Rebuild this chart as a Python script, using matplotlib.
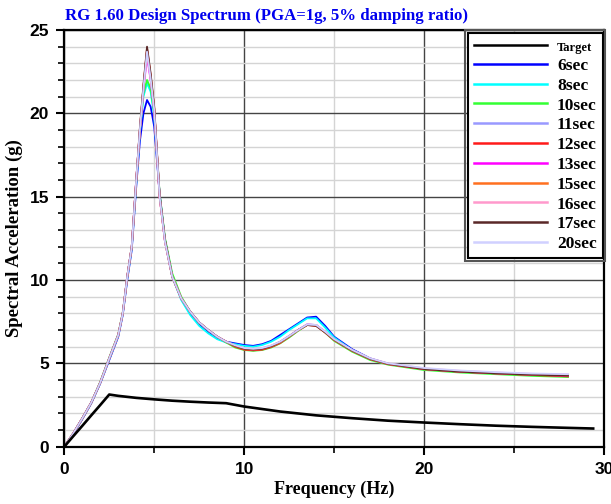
import matplotlib
matplotlib.use("Agg")
import matplotlib.pyplot as plt
from matplotlib.ticker import MultipleLocator
from matplotlib.patches import Rectangle

# ---------------- data ----------------
target_freq = [0, 0.5, 1, 1.5, 2, 2.5, 3, 4, 5, 6, 7, 8, 9, 10, 12, 14, 16, 18, 20, 22, 24, 26, 28, 29.4]
target_sa = [0, 0.63, 1.25, 1.88, 2.50, 3.13, 3.05, 2.93, 2.84, 2.76, 2.70, 2.65, 2.61, 2.41, 2.11,
             1.88, 1.71, 1.56, 1.45, 1.35, 1.26, 1.19, 1.13, 1.09]

freq = [0, 0.5, 1, 1.5, 2, 2.5, 3, 3.25, 3.5, 3.75, 4, 4.2, 4.4, 4.6, 4.8, 5, 5.3, 5.6, 6, 6.5,
        7, 7.5, 8, 8.5, 9, 9.5, 10, 10.5, 11, 11.5, 12, 12.5, 13, 13.5, 14, 14.5, 15, 16, 17, 18,
        20, 22, 24, 26, 28]

sa_6sec = [0, 0.75, 1.65, 2.6, 3.8, 5.2, 6.6, 7.9, 10.0, 11.8, 15.6, 18.3, 20.0, 20.8, 20.4, 19.2,
           15.2, 12.4, 10.3, 8.9, 8.0, 7.35, 6.9, 6.5, 6.3, 6.2, 6.1, 6.05, 6.15, 6.35, 6.7, 7.05,
           7.4, 7.75, 7.8, 7.25, 6.6, 5.85, 5.3, 4.98, 4.65, 4.5, 4.4, 4.32, 4.28]
sa_8sec = [0, 0.78, 1.68, 2.62, 3.82, 5.25, 6.65, 7.95, 10.1, 11.9, 15.8, 18.8, 21.0, 21.8, 21.3,
           19.8, 15.1, 12.3, 10.2, 8.8, 7.9, 7.25, 6.8, 6.45, 6.25, 6.15, 6.05, 6.0, 6.1, 6.3, 6.6,
           7.0, 7.35, 7.7, 7.7, 7.15, 6.55, 5.8, 5.28, 4.96, 4.65, 4.5, 4.4, 4.32, 4.28]
sa_10sec = [0, 0.8, 1.7, 2.65, 3.9, 5.35, 6.75, 8.05, 10.2, 12.0, 15.9, 18.9, 21.2, 22.0, 21.5,
            20.0, 15.2, 12.5, 10.4, 9.0, 8.1, 7.45, 7.0, 6.6, 6.25, 5.95, 5.8, 5.75, 5.8, 5.95, 6.2,
            6.55, 6.95, 7.3, 7.3, 6.85, 6.35, 5.7, 5.2, 4.92, 4.6, 4.45, 4.35, 4.25, 4.18]
sa_11sec = [0, 0.8, 1.7, 2.65, 3.85, 5.3, 6.7, 8.0, 10.2, 12.0, 16.0, 19.0, 21.5, 23.6, 22.1,
            20.2, 15.0, 12.3, 10.2, 8.9, 8.1, 7.45, 7.0, 6.6, 6.3, 6.05, 5.9, 5.85, 5.9, 6.05, 6.3,
            6.65, 7.0, 7.35, 7.3, 6.9, 6.45, 5.78, 5.27, 4.97, 4.67, 4.52, 4.42, 4.34, 4.3]
sa_12sec = [0, 0.8, 1.7, 2.65, 3.85, 5.3, 6.7, 8.0, 10.2, 12.0, 16.0, 19.0, 21.6, 23.9, 22.3,
            20.3, 15.0, 12.3, 10.2, 8.9, 8.1, 7.45, 7.0, 6.6, 6.3, 6.0, 5.82, 5.78, 5.82, 5.98, 6.22,
            6.6, 7.0, 7.3, 7.25, 6.85, 6.4, 5.75, 5.25, 4.95, 4.65, 4.5, 4.4, 4.3, 4.22]
sa_13sec = [0, 0.8, 1.7, 2.65, 3.85, 5.3, 6.7, 8.0, 10.2, 12.0, 16.0, 18.9, 21.4, 23.4, 22.0,
            20.1, 15.0, 12.3, 10.2, 8.9, 8.1, 7.45, 7.0, 6.6, 6.3, 6.05, 5.88, 5.83, 5.88, 6.03, 6.28,
            6.62, 7.0, 7.32, 7.3, 6.88, 6.42, 5.78, 5.27, 4.97, 4.66, 4.5, 4.4, 4.32, 4.26]
sa_15sec = [0, 0.8, 1.7, 2.65, 3.85, 5.3, 6.7, 8.0, 10.2, 12.0, 16.0, 19.0, 21.6, 23.8, 22.2,
            20.3, 15.0, 12.3, 10.2, 8.9, 8.1, 7.45, 7.0, 6.6, 6.3, 6.05, 5.87, 5.82, 5.87, 6.02, 6.26,
            6.6, 6.98, 7.3, 7.27, 6.86, 6.4, 5.76, 5.26, 4.96, 4.66, 4.5, 4.4, 4.32, 4.27]
sa_16sec = [0, 0.8, 1.7, 2.65, 3.85, 5.3, 6.7, 8.0, 10.2, 12.0, 16.0, 19.0, 21.5, 23.6, 22.1,
            20.2, 15.0, 12.3, 10.2, 8.9, 8.1, 7.45, 7.0, 6.6, 6.3, 6.08, 5.92, 5.87, 5.92, 6.07, 6.3,
            6.64, 7.0, 7.33, 7.3, 6.9, 6.45, 5.8, 5.3, 5.0, 4.7, 4.55, 4.45, 4.37, 4.33]
sa_17sec = [0, 0.8, 1.7, 2.65, 3.85, 5.3, 6.7, 8.0, 10.2, 12.0, 16.0, 19.1, 21.7, 24.0, 22.4,
            20.4, 15.1, 12.4, 10.2, 8.9, 8.1, 7.45, 7.0, 6.6, 6.3, 6.05, 5.88, 5.83, 5.88, 6.03, 6.28,
            6.62, 7.0, 7.3, 7.25, 6.86, 6.42, 5.77, 5.27, 4.97, 4.66, 4.5, 4.4, 4.32, 4.27]
sa_20sec = [0, 0.8, 1.7, 2.65, 3.85, 5.3, 6.7, 8.0, 10.2, 12.0, 16.0, 19.0, 21.5, 23.7, 22.1,
            20.2, 15.0, 12.3, 10.2, 8.9, 8.1, 7.45, 7.0, 6.6, 6.3, 6.08, 5.92, 5.87, 5.92, 6.07, 6.3,
            6.64, 7.0, 7.33, 7.3, 6.9, 6.45, 5.8, 5.3, 5.0, 4.72, 4.57, 4.47, 4.39, 4.35]

series_labels = ["6sec", "8sec", "10sec", "11sec", "12sec", "13sec", "15sec", "16sec", "17sec", "20sec"]
series_values = [sa_6sec, sa_8sec, sa_10sec, sa_11sec, sa_12sec, sa_13sec, sa_15sec, sa_16sec, sa_17sec, sa_20sec]
series_colors = ["#0000ff", "#00ffff", "#33ff33", "#9999ff", "#ff1a1a", "#ff00ff", "#ff7020",
                 "#ff99cc", "#5a2828", "#d0d0ff"]

title = "RG 1.60 Design Spectrum (PGA=1g, 5% damping ratio)"
xlabel = "Frequency (Hz)"
ylabel = "Spectral Acceleration (g)"

# ---------------- plot ----------------
fig = plt.figure(figsize=(6.11, 5.04), dpi=100)
ax = fig.add_axes([0.1052, 0.1137, 0.8833, 0.8268])

ax.set_xlim(0, 30)
ax.set_ylim(0, 25)
ax.xaxis.set_major_locator(MultipleLocator(10))
ax.xaxis.set_minor_locator(MultipleLocator(5))
ax.yaxis.set_major_locator(MultipleLocator(5))
ax.yaxis.set_minor_locator(MultipleLocator(1))
ax.grid(which="minor", color="#d4d4d4", lw=1.0, zorder=0)
ax.grid(which="major", color="#444444", lw=1.0, zorder=0)
ax.set_axisbelow(True)

ax.plot(target_freq, target_sa, color="black", lw=1.9, label="Target", zorder=3)
for lab, vals, col in zip(series_labels, series_values, series_colors):
    ax.plot(freq, vals, color=col, lw=1.3, label=lab, zorder=2)

for s in ax.spines.values():
    s.set_linewidth(1.6)
    s.set_color("black")

ax.tick_params(which="major", direction="out", length=6, width=1.5, pad=5)
ax.tick_params(which="minor", direction="out", length=4, width=1.2)
for lbl in ax.get_xticklabels() + ax.get_yticklabels():
    lbl.set_fontfamily("Liberation Sans")
    lbl.set_fontweight("bold")
    lbl.set_fontsize(12.5)

ax.set_xlabel(xlabel, fontfamily="Liberation Serif", fontweight="bold", fontsize=13, labelpad=3)
ax.set_ylabel(ylabel, fontfamily="Liberation Serif", fontweight="bold", fontsize=13.5, labelpad=5)

fig.text(0.107, 0.968, title, color="#0000ee", fontfamily="Liberation Serif",
         fontweight="bold", fontsize=12.1, ha="left", va="center")

leg = ax.legend(loc="upper right", bbox_to_anchor=(0.998, 0.993), fancybox=False,
                framealpha=1, edgecolor="black", borderaxespad=0.0,
                prop={"family": "Liberation Serif", "weight": "bold", "size": 12.5},
                handlelength=4.2, handletextpad=0.6, labelspacing=0.21, borderpad=0.35)
leg.get_frame().set_linewidth(1.5)
leg.set_zorder(5)
leg.get_texts()[0].set_fontsize(9)
for h in leg.get_lines():
    h.set_linewidth(1.8)

fig.canvas.draw()
bb = leg.get_window_extent().transformed(fig.transFigure.inverted())
pw, ph = 2.5 / 611, 2.5 / 504
rect = Rectangle((bb.x0 - pw, bb.y0 - ph), bb.width + 2 * pw, bb.height + 2 * ph,
                 transform=fig.transFigure, fill=False, edgecolor="#555555", lw=1.5, zorder=6)
fig.patches.append(rect)

fig.savefig("out.png", dpi=100)
